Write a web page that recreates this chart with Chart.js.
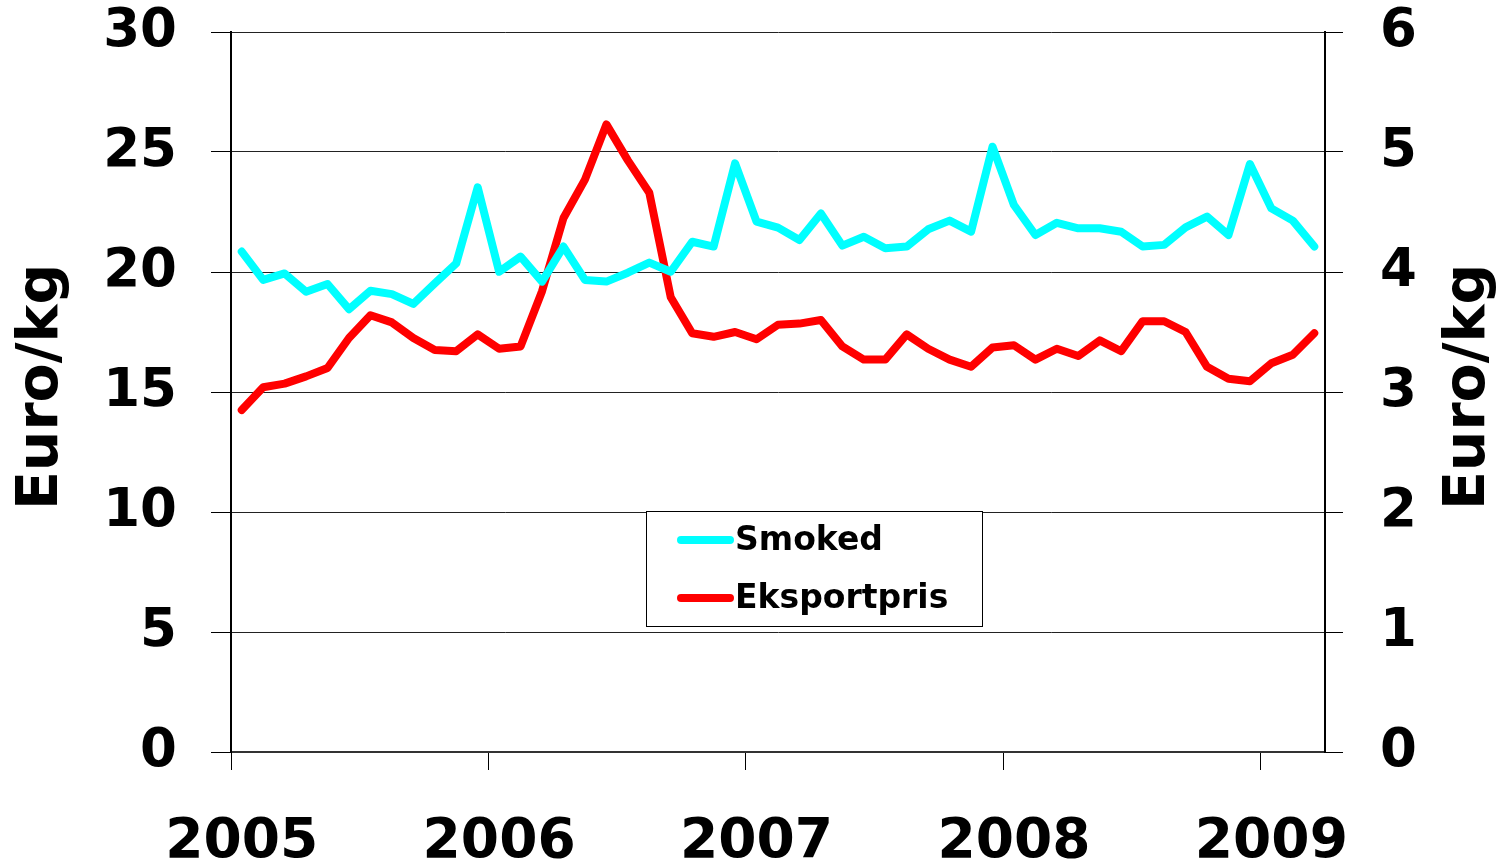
<!DOCTYPE html>
<html><head><meta charset="utf-8">
<script src="https://cdn.jsdelivr.net/npm/chart.js@4"></script>
<style>html,body{margin:0;padding:0;background:#fff}#wrap{width:1510px;height:866px;position:relative}</style>
</head><body><div id="wrap"><canvas id="c" width="1510" height="866"></canvas></div>
<script>
const months = [
 '2005-01','2005-02','2005-03','2005-04','2005-05','2005-06','2005-07','2005-08','2005-09','2005-10','2005-11','2005-12',
 '2006-01','2006-02','2006-03','2006-04','2006-05','2006-06','2006-07','2006-08','2006-09','2006-10','2006-11','2006-12',
 '2007-01','2007-02','2007-03','2007-04','2007-05','2007-06','2007-07','2007-08','2007-09','2007-10','2007-11','2007-12',
 '2008-01','2008-02','2008-03','2008-04','2008-05','2008-06','2008-07','2008-08','2008-09','2008-10','2008-11','2008-12',
 '2009-01','2009-02','2009-03'];
const smoked = [20.85,19.67,19.94,19.18,19.5,18.45,19.22,19.08,18.67,19.53,20.36,23.53,
 20.01,20.64,19.6,21.06,19.67,19.6,19.97,20.39,20.01,21.26,21.06,24.53,
 22.1,21.85,21.33,22.44,21.1,21.47,20.99,21.06,21.78,22.14,21.68,25.22,
 22.79,21.54,22.05,21.82,21.82,21.68,21.06,21.13,21.86,22.31,21.54,24.5,
 22.65,22.14,21.06];
const eksportpris = [2.85,3.04,3.07,3.13,3.2,3.45,3.64,3.58,3.45,3.35,3.34,3.48,
 3.36,3.38,3.84,4.45,4.77,5.23,4.93,4.66,3.79,3.49,3.46,3.5,
 3.44,3.56,3.57,3.6,3.38,3.27,3.27,3.48,3.36,3.27,3.21,3.37,
 3.39,3.27,3.36,3.3,3.43,3.34,3.59,3.59,3.5,3.21,3.11,3.09,
 3.24,3.31,3.49];
const seriesNames = ['Smoked','Eksportpris'];
const axisTitle = 'Euro/kg';

const F = "'DejaVu Sans', Verdana, sans-serif";
const isJan = (i) => i !== undefined && months[i] && months[i].endsWith('-01');

const overlay = {
  id: 'overlay',
  afterDraw(chart) {
    const c = chart.ctx, ca = chart.chartArea;
    c.save();
    c.fillStyle = '#000';
    c.font = `bold 57px ${F}`;
    c.textAlign = 'center';
    c.textBaseline = 'middle';
    const midY = ca.top + (ca.bottom - ca.top) * 0.493;
    [42, 1469].forEach(x => {
      c.save(); c.translate(x, midY); c.rotate(-Math.PI / 2);
      c.fillText(axisTitle, 0, 0); c.restore();
    });
    // legend box
    const bx = 646.5, by = 511.5, bw = 336, bh = 115;
    c.fillStyle = '#fff'; c.fillRect(bx, by, bw, bh);
    c.strokeStyle = '#000'; c.lineWidth = 1; c.strokeRect(bx, by, bw, bh);
    c.font = `bold 33px ${F}`; c.textAlign = 'left';
    chart.data.datasets.forEach((ds, i) => {
      const y = 540 + i * 58;
      c.strokeStyle = ds.borderColor; c.lineWidth = 8; c.lineCap = 'round';
      c.beginPath(); c.moveTo(681, y); c.lineTo(730, y); c.stroke();
      c.fillStyle = '#000'; c.fillText(ds.label, 735, y + 1);
    });
    c.restore();
  }
};

const noPad = (s) => { s.paddingTop = 0; s.paddingBottom = 0; };

new Chart(document.getElementById('c'), {
  type: 'line',
  data: {
    labels: months,
    datasets: [
      {label: seriesNames[0], data: smoked, yAxisID: 'y', borderColor: '#00FFFF', backgroundColor: '#00FFFF',
       borderWidth: 8, pointRadius: 0, tension: 0, borderCapStyle: 'round', borderJoinStyle: 'round'},
      {label: seriesNames[1], data: eksportpris, yAxisID: 'y1', borderColor: '#FF0000', backgroundColor: '#FF0000',
       borderWidth: 8, pointRadius: 0, tension: 0, borderCapStyle: 'round', borderJoinStyle: 'round'}
    ]
  },
  options: {
    responsive: false, animation: false, devicePixelRatio: 1,
    layout: {padding: {top: 32, left: 0, right: 0, bottom: 0}},
    plugins: {legend: {display: false}, tooltip: {enabled: false}},
    scales: {
      x: {
        type: 'category', offset: true,
        grid: {display: true, drawOnChartArea: false, offset: true, tickLength: 18, tickWidth: 1,
               tickColor: (ctx) => isJan(ctx.index) ? '#000' : 'rgba(0,0,0,0)'},
        border: {display: true, color: '#333', width: 2},
        ticks: {autoSkip: false, maxRotation: 0, minRotation: 0, padding: 40, color: '#000',
                font: {family: F, size: 55, weight: 'bold'},
                callback: (v, i) => isJan(i) ? months[i].slice(0, 4) : ''},
        afterFit: (s) => { s.height = 114; }
      },
      y: {
        position: 'left', min: 0, max: 30,
        ticks: {stepSize: 5, padding: 34, color: '#000', font: {family: F, size: 53, weight: 'bold'}},
        grid: {color: '#222', lineWidth: 1, tickLength: 20, tickColor: '#000'},
        border: {display: true, color: '#000', width: 2},
        afterFit: (s) => { s.width = 231; noPad(s); }
      },
      y1: {
        position: 'right', min: 0, max: 6,
        ticks: {stepSize: 1, padding: 37, color: '#000', font: {family: F, size: 53, weight: 'bold'}},
        grid: {drawOnChartArea: false, tickLength: 18, tickColor: '#000', lineWidth: 1},
        border: {display: true, color: '#000', width: 2},
        afterFit: (s) => { s.width = 185; noPad(s); }
      }
    }
  },
  plugins: [overlay]
});
</script></body></html>
